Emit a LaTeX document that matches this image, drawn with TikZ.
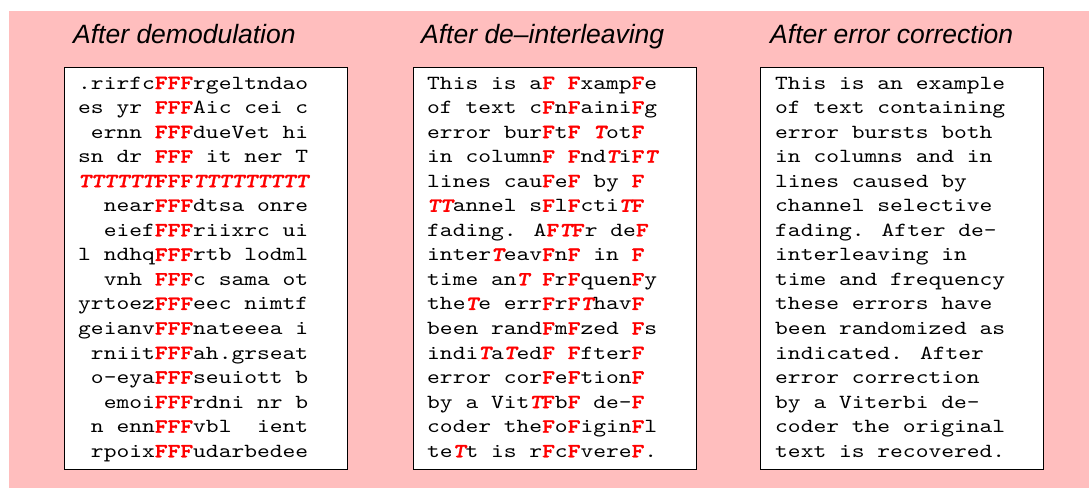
\documentclass[tikz,border=0pt]{standalone}
\usepackage{fontspec}
\setmainfont{Liberation Sans}
\setsansfont{Liberation Sans}
\newfontfamily\cour{lmmono10-regular}[Extension=.otf, FakeStretch=1.217,
  BoldFont=lmmonolt10-bold, BoldFeatures={FakeBold=1.5},
  ItalicFont=lmmono10-italic,
  BoldItalicFont=lmmonolt10-boldoblique, BoldItalicFeatures={FakeBold=1.5}]
\definecolor{bgpink}{RGB}{255,190,190}
\newcommand\rF{{\color{red}\bfseries F}}
\newcommand\rT{{\color{red}\bfseries\itshape T}}
\newcommand\rFFF{{\color{red}\bfseries FFF}}
\begin{document}
\begin{tikzpicture}[x=1pt,y=-1pt,
  panel/.style={draw=black,line width=0.8pt,fill=white,minimum width=283pt,minimum height=402pt,anchor=north west,inner sep=0pt},
  ttl/.style={anchor=base west,inner sep=0pt,font=\fontsize{26.5}{30}\selectfont\sffamily\itshape},
  txt/.style={anchor=base west,inner sep=0pt,font=\fontsize{20}{24}\selectfont\cour}]
\useasboundingbox (0,0) rectangle (1089,488);
\fill[bgpink] (9,11) rectangle (1089,488);
% titles
\node[ttl] (t1) at (73,43) {After demodulation};
\node[ttl] (t2) at (421,43) {After de–interleaving};
\node[ttl] (t3) at (770,43) {After error correction};
% panels
\node[panel] (p1) at (64,67) {};
\node[panel] (p2) at (413,67) {};
\node[panel] (p3) at (760,67) {};
% panel 1
\foreach \s [count=\i from 0] in {
 .rirfc\rFFF{}rgeltndao,
 es yr \rFFF{}Aic cei c,
 ~ernn \rFFF{}dueVet hi,
 sn dr \rFFF{} it ner T,
 \rT\rT\rT\rT\rT\rT\rFFF\rT\rT\rT\rT\rT\rT\rT\rT\rT,
 ~~near\rFFF{}dtsa onre,
 ~~eief\rFFF{}riixrc ui,
 l ndhq\rFFF{}rtb lodml,
 ~~vnh \rFFF{}c sama ot,
 yrtoez\rFFF{}eec nimtf,
 geianv\rFFF{}nateeea i,
 ~rniit\rFFF{}ah.grseat,
 ~o-eya\rFFF{}seuiott b,
 ~~emoi\rFFF{}rdni nr b,
 ~n enn\rFFF{}vbl~~ient,
 ~rpoix\rFFF{}udarbedee}
 {\node[txt] (a\i) at (78,{89+\i*24.55}) {\s};}
% panel 2
\foreach \s [count=\i from 0] in {
 This is a\rF{} \rF{}xamp\rF{}e,
 of text c\rF{}n\rF{}aini\rF{}g,
 error bur\rF{}t\rF{} \rT{}ot\rF,
 in column\rF{} \rF{}nd\rT{}i\rF\rT,
 lines cau\rF{}e\rF{} by \rF,
 \rT\rT{}annel s\rF{}l\rF{}cti\rT\rF,
 fading. A\rF\rT\rF{}r de\rF,
 inter\rT{}eav\rF{}n\rF{} in \rF,
 time an\rT{} \rF{}r\rF{}quen\rF{}y,
 the\rT{}e err\rF{}r\rF\rT{}hav\rF,
 been rand\rF{}m\rF{}zed \rF{}s,
 indi\rT{}a\rT{}ed\rF{} \rF{}fter\rF,
 error cor\rF{}e\rF{}tion\rF,
 by a Vit\rT\rF{}b\rF{} de-\rF,
 coder the\rF{}o\rF{}igin\rF{}l,
 te\rT{}t is r\rF{}c\rF{}vere\rF{}.}
 {\node[txt] (b\i) at (427,{89+\i*24.55}) {\s};}
% panel 3
\foreach \s [count=\i from 0] in {
 This is an example,
 of text containing,
 error bursts both,
 in columns and in,
 lines caused by,
 channel selective,
 fading. After de-,
 interleaving in,
 time and frequency,
 these errors have,
 been randomized as,
 indicated. After,
 error correction,
 by a Viterbi de-,
 coder the original,
 text is recovered.}
 {\node[txt] (c\i) at (775,{89+\i*24.55}) {\s};}
\end{tikzpicture}
\end{document}
